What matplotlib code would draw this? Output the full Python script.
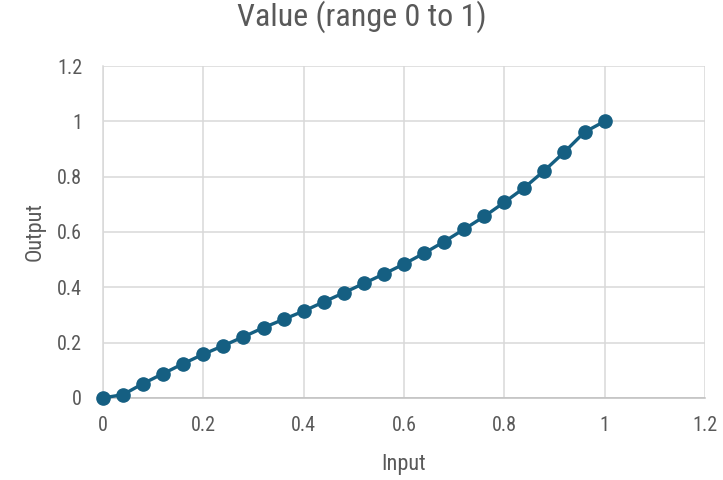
import matplotlib
matplotlib.use("Agg")
import matplotlib.pyplot as plt
from matplotlib import font_manager

x_vals = [0, 0.04, 0.08, 0.12, 0.16, 0.20, 0.24, 0.28, 0.32, 0.36, 0.40, 0.44, 0.48,
          0.52, 0.56, 0.60, 0.64, 0.68, 0.72, 0.76, 0.80, 0.84, 0.88, 0.92, 0.96, 1.00]
y_vals = [0, 0.012, 0.052, 0.088, 0.124, 0.158, 0.189, 0.221, 0.254, 0.284, 0.314, 0.347, 0.380,
          0.414, 0.448, 0.484, 0.523, 0.565, 0.610, 0.656, 0.707, 0.760, 0.822, 0.889, 0.961, 1.0]
x_ticks = [0, 0.2, 0.4, 0.6, 0.8, 1.0, 1.2]
x_tick_labels = ["0", "0.2", "0.4", "0.6", "0.8", "1", "1.2"]
y_ticks = [0, 0.2, 0.4, 0.6, 0.8, 1.0, 1.2]
y_tick_labels = ["0", "0.2", "0.4", "0.6", "0.8", "1", "1.2"]

names = {f.name for f in font_manager.fontManager.ttflist}
fam = [f for f in ["Liberation Sans Narrow", "Roboto Condensed", "Roboto", "DejaVu Sans"] if f in names]
plt.rcParams['font.family'] = fam

gray = "#595959"
fig = plt.figure(figsize=(7.23, 4.80), dpi=100)
ax = fig.add_axes([0.1425, 0.171, 0.975 - 0.1425, 0.8625 - 0.171])

ax.plot(x_vals, y_vals, color="#155f82", lw=2.4, marker="o", ms=9.5, zorder=3, clip_on=False)

ax.set_xlim(0, 1.2)
ax.set_ylim(0, 1.2)
ax.set_xticks(x_ticks)
ax.set_xticklabels(x_tick_labels)
ax.set_yticks(y_ticks)
ax.set_yticklabels(y_tick_labels)
ax.grid(True, color="#d9d9d9", lw=1.1)
ax.set_axisbelow(True)
for s in ["top", "right"]:
    ax.spines[s].set_visible(False)
ax.spines["left"].set_color("#d9d9d9")
ax.spines["bottom"].set_color("#bfbfbf")
ax.spines["left"].set_linewidth(1.1)
ax.spines["bottom"].set_linewidth(1.1)
ax.tick_params(axis="x", length=0, labelsize=14.5, colors=gray, pad=13)
ax.tick_params(axis="y", length=0, labelsize=14.5, colors=gray, pad=15)
ax.set_xlabel("Input", fontsize=16, color=gray, labelpad=14)
ax.set_ylabel("Output", fontsize=16, color=gray, labelpad=8)
fig.suptitle("Value (range 0 to 1)", fontsize=23, color=gray, y=1.0)

fig.savefig("out.png", dpi=100)
